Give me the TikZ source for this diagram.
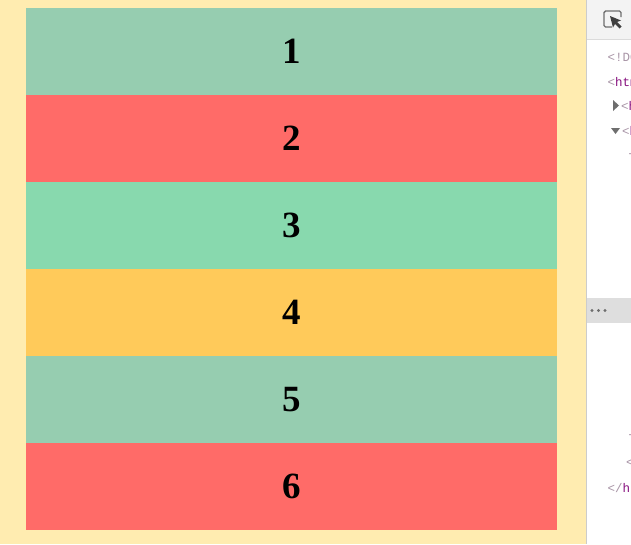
\documentclass[tikz,border=0pt]{standalone}
\usepackage{fontspec}
\setmainfont{Liberation Serif}
\newfontfamily\codefont{Liberation Mono}
\usetikzlibrary{positioning}
\definecolor{pagebg}{HTML}{FFECB0}
\definecolor{mint}{HTML}{96CDB0}
\definecolor{coral}{HTML}{FF6B68}
\definecolor{seagreen}{HTML}{88D9AE}
\definecolor{amber}{HTML}{FFCA5A}
\definecolor{toolbg}{HTML}{F3F3F3}
\definecolor{tooledge}{HTML}{CCCCCC}
\definecolor{tagbracket}{HTML}{A894A6}
\definecolor{tagname}{HTML}{881280}
\definecolor{arrowgrey}{HTML}{6E6E6E}

\begin{document}
\begin{tikzpicture}[x=1pt, y=-1pt]
                \tikzstyle{stripe} = [shape=rectangle, minimum width=531pt, minimum height=87pt, inner sep=0pt, font=\fontsize{37}{37}\selectfont\bfseries];
                \tikzstyle{code} = [anchor=west, inner sep=0pt, font=\codefont\fontsize{12.5}{13}\selectfont];

                \useasboundingbox (0,0) rectangle (631,544);
                \fill[pagebg] (0,0) rectangle (586,544);
                \fill[white] (587,0) rectangle (631,544);

                \foreach \n/\c in {1/mint, 2/coral, 3/seagreen, 4/amber, 5/mint, 6/coral}
                    \node[stripe, fill=\c](s\n) at (291.5, 8+87*\n-43.5) {\n};

                \draw[color=tooledge] (586.5,0) -- (586.5,544);
                \fill[toolbg] (587,0) rectangle (631,39);
                \draw[color=tooledge!70] (587,39.5) -- (631,39.5);

                % inspect icon
                \draw[arrowgrey, line width=1.4pt, rounded corners=1.5pt] (612,27) -- (604,27) -- (604,11) -- (621,11) -- (621,17);
                \fill[black!75] (610,16) -- (621,20.5) -- (617,22) -- (621.5,26.5) -- (619.5,28.5) -- (615,24) -- (613,27.5) -- cycle;

                \begin{scope}
                    \clip (587,40) rectangle (631,544);
                    \fill[black!13] (587,298) rectangle (631,323);
                    \foreach \d in {592,598.5,605}
                        \fill[arrowgrey] (\d,310.5) circle (1.6);

                    \node[code](doctype) at (607.5,57) {\textcolor{tagbracket}{<!DOCTYPE}};
                    \node[code](html) at (607.5,82) {\textcolor{tagbracket}{<}\textcolor{tagname}{html}};
                    \fill[arrowgrey] (613,100) -- (619,105.5) -- (613,111) -- cycle;
                    \node[code](head) at (621,106) {\textcolor{tagbracket}{<}\textcolor{tagname}{head}};
                    \fill[arrowgrey] (611,128) -- (620,128) -- (615.5,134) -- cycle;
                    \node[code](body) at (622,132) {\textcolor{tagbracket}{<}\textcolor{tagname}{body}};
                    \node[code](child) at (627,156) {\textcolor{tagbracket}{-}};
                    \node[code](close1) at (627,437) {\textcolor{tagbracket}{-}};
                    \node[code](close2) at (626,462) {\textcolor{tagbracket}{<}\textcolor{tagname}{/}};
                    \node[code](htmlend) at (607.5,488) {\textcolor{tagbracket}{</}\textcolor{tagname}{html}};
                \end{scope}
            \end{tikzpicture}
\end{document}
